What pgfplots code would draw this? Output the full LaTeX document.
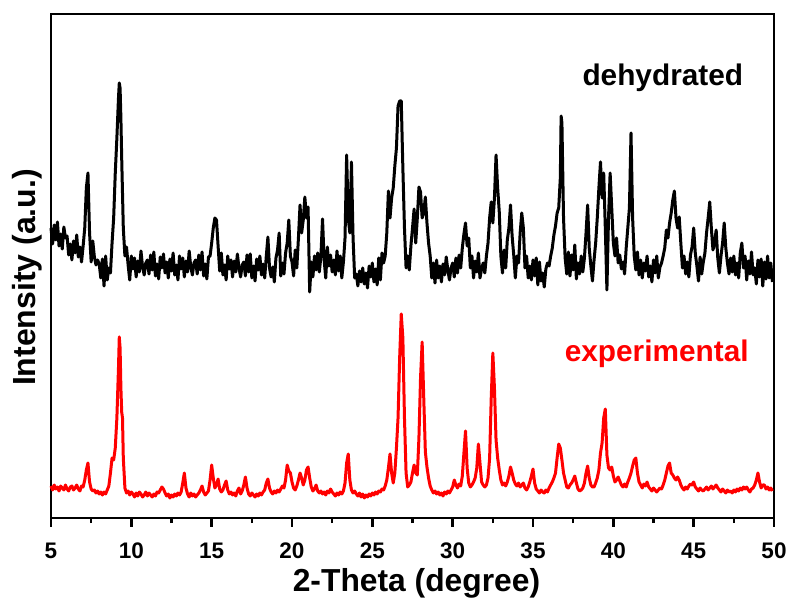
\documentclass[border=0pt]{standalone}
\usepackage{fontspec}
\setmainfont{Liberation Sans}
\usepackage{pgfplots}
\pgfplotsset{compat=1.18}
\usetikzlibrary{calc}

\pgfplotstableread{
x y
5.0 290
5.1 274
5.2 293
5.3 278
5.4 296
5.5 272
5.6 284
5.7 269
5.8 291
5.9 280
6.0 282
6.1 263
6.2 274
6.3 258
6.4 277
6.5 265
6.6 283
6.7 261
6.8 271
6.9 256
7.0 272
7.1 290
7.2 330
7.3 345
7.4 285
7.5 256
7.6 277
7.7 261
7.8 253
7.9 258
8.0 254
8.1 240
8.2 259
8.3 232
8.4 262
8.5 238
8.6 250
8.7 245
8.8 275
8.9 300
9.0 345
9.1 380
9.2 420
9.25 435
9.3 430
9.35 400
9.4 360
9.5 290
9.6 262
9.7 271
9.8 253
9.9 238
10.0 262
10.1 249
10.2 260
10.3 241
10.4 257
10.5 246
10.6 267
10.7 251
10.8 243
10.9 255
11.0 258
11.1 244
11.2 263
11.3 248
11.4 266
11.5 242
11.6 254
11.7 239
11.8 261
11.9 250
12.0 264
12.1 245
12.2 256
12.3 240
12.4 259
12.5 247
12.6 265
12.7 243
12.8 253
12.9 238
13.0 262
13.1 249
13.2 260
13.3 241
13.4 257
13.5 246
13.6 267
13.7 251
13.8 243
13.9 255
14.0 258
14.1 244
14.2 263
14.3 248
14.4 266
14.5 242
14.6 254
14.7 239
14.8 261
14.9 262
15.0 275
15.1 290
15.2 300
15.3 298
15.4 272
15.5 247
15.6 265
15.7 243
15.8 253
15.9 238
16.0 262
16.1 249
16.2 258
16.3 241
16.4 257
16.5 246
16.6 264
16.7 250
16.8 241
16.9 253
17.0 256
17.1 242
17.2 263
17.3 246
17.4 264
17.5 240
17.6 252
17.7 237
17.8 259
17.9 248
18.0 262
18.1 243
18.2 254
18.3 240
18.4 262
18.5 281
18.6 250
18.7 241
18.8 251
18.9 236
19.0 260
19.1 268
19.2 285
19.3 242
19.4 255
19.5 244
19.6 265
19.7 275
19.8 298
19.9 262
20.0 256
20.1 242
20.2 268
20.3 250
20.4 280
20.5 313
20.6 285
20.7 298
20.8 321
20.9 300
21.0 311
21.1 226
21.2 256
21.3 241
21.4 262
21.5 248
21.6 265
21.7 246
21.8 262
21.9 299
22.0 258
22.1 240
22.2 271
22.3 252
22.4 263
22.5 246
22.6 258
22.7 243
22.8 267
22.9 247
23.0 262
23.1 240
23.2 256
23.3 280
23.4 363
23.5 300
23.6 285
23.7 356
23.8 280
23.9 240
24.0 244
24.1 232
24.2 247
24.3 236
24.4 250
24.5 234
24.6 245
24.7 230
24.8 252
24.9 241
25.0 255
25.1 236
25.2 249
25.3 233
25.4 260
25.5 238
25.6 265
25.7 255
25.8 262
25.9 285
26.0 327
26.1 300
26.2 320
26.3 330
26.4 352
26.5 370
26.6 412
26.7 417
26.8 417
26.9 350
27.0 290
27.1 250
27.2 262
27.3 248
27.4 272
27.5 290
27.6 309
27.7 275
27.8 300
27.9 331
28.0 326
28.1 300
28.2 305
28.3 321
28.4 295
28.5 275
28.6 262
28.7 240
28.8 255
28.9 235
29.0 258
29.1 240
29.2 252
29.3 236
29.4 254
29.5 243
29.6 261
29.7 248
29.8 238
29.9 250
30.0 255
30.1 241
30.2 260
30.3 245
30.4 263
30.5 250
30.6 270
30.7 284
30.8 295
30.9 272
31.0 280
31.1 250
31.2 262
31.3 240
31.4 257
31.5 246
31.6 265
31.7 240
31.8 249
31.9 255
32.0 245
32.1 262
32.2 275
32.3 300
32.4 316
32.5 295
32.6 320
32.7 363
32.8 330
32.9 306
33.0 262
33.1 245
33.2 268
33.3 250
33.4 278
33.5 290
33.6 313
33.7 282
33.8 263
33.9 240
34.0 262
34.1 255
34.2 285
34.3 305
34.4 290
34.5 250
34.6 262
34.7 240
34.8 252
34.9 238
35.0 258
35.1 242
35.2 260
35.3 233
35.4 256
35.5 237
35.6 245
35.7 231
35.8 249
35.9 255
36.0 252
36.1 262
36.2 270
36.3 283
36.4 292
36.5 305
36.6 310
36.7 340
36.75 402
36.8 395
36.9 300
37.0 260
37.1 244
37.2 266
37.3 242
37.4 263
37.5 248
37.6 273
37.7 239
37.8 255
37.9 244
38.0 262
38.1 246
38.2 260
38.3 285
38.4 313
38.5 270
38.6 252
38.7 237
38.8 258
38.9 275
39.0 300
39.1 330
39.2 356
39.3 320
39.4 345
39.5 290
39.6 228
39.7 300
39.8 345
39.9 310
40.0 275
40.1 262
40.2 280
40.3 255
40.4 263
40.5 249
40.6 256
40.7 244
40.8 270
40.9 290
41.0 310
41.1 385
41.2 300
41.3 262
41.4 248
41.5 266
41.6 243
41.7 258
41.8 240
41.9 255
42.0 247
42.1 262
42.2 241
42.3 252
42.4 236
42.5 258
42.6 245
42.7 262
42.8 240
42.9 251
43.0 255
43.1 262
43.2 270
43.3 288
43.4 280
43.5 295
43.6 305
43.7 318
43.8 327
43.9 300
44.0 290
44.1 301
44.2 275
44.3 250
44.4 262
44.5 244
44.6 256
44.7 241
44.8 263
44.9 271
45.0 290
45.1 265
45.2 252
45.3 237
45.4 261
45.5 244
45.6 256
45.7 265
45.8 285
45.9 300
46.0 316
46.1 290
46.2 268
46.3 275
46.4 288
46.5 260
46.6 245
46.7 262
46.8 275
46.9 295
47.0 270
47.1 255
47.2 244
47.3 260
47.4 246
47.5 262
47.6 243
47.7 255
47.8 240
47.9 265
48.0 275
48.1 250
48.2 262
48.3 238
48.4 257
48.5 244
48.6 266
48.7 243
48.8 250
48.9 234
49.0 258
49.1 241
49.2 259
49.3 232
49.4 256
49.5 239
49.6 262
49.7 240
49.8 255
49.9 236
}\dehydrated

\pgfplotstableread{
x y
5.0 32
5.1 28
5.2 33
5.3 29
5.4 31
5.5 27
5.6 32
5.7 30
5.8 28
5.9 33
6.0 29
6.1 27
6.2 31
6.3 32
6.4 28
6.5 30
6.6 33
6.7 29
6.8 27
6.9 32
7.0 31
7.1 38
7.2 48
7.3 55
7.4 36
7.5 29
7.6 27
7.7 28
7.8 25
7.9 27
8.0 24
8.1 26
8.2 23
8.3 26
8.4 24
8.5 28
8.6 32
8.7 45
8.8 60
8.9 58
9.0 70
9.1 100
9.2 150
9.25 181
9.3 170
9.35 130
9.4 106
9.45 100
9.5 60
9.6 30
9.7 25
9.8 27
9.9 23
10.0 26
10.1 24
10.2 21
10.3 25
10.4 22
10.5 26
10.6 24
10.7 21
10.8 23
10.9 26
11.0 22
11.1 25
11.2 23
11.3 21
11.4 24
11.5 22
11.6 26
11.7 25
11.8 28
11.9 31
12.0 29
12.1 25
12.2 22
12.3 24
12.4 20
12.5 23
12.6 21
12.7 24
12.8 22
12.9 25
13.0 23
13.1 26
13.2 35
13.3 45
13.4 30
13.5 24
13.6 21
13.7 25
13.8 22
13.9 24
14.0 21
14.1 23
14.2 25
14.3 28
14.4 32
14.5 26
14.6 23
14.7 25
14.8 27
14.9 38
15.0 53
15.1 40
15.2 30
15.3 33
15.4 39
15.5 29
15.6 26
15.7 28
15.8 33
15.9 37
16.0 28
16.1 24
16.2 26
16.3 23
16.4 25
16.5 22
16.6 27
16.7 30
16.8 24
16.9 27
17.0 33
17.1 41
17.2 30
17.3 24
17.4 22
17.5 25
17.6 23
17.7 21
17.8 24
17.9 22
18.0 25
18.1 23
18.2 26
18.3 28
18.4 35
18.5 39
18.6 30
18.7 26
18.8 24
18.9 27
19.0 25
19.1 28
19.2 26
19.3 29
19.4 32
19.5 30
19.6 38
19.7 53
19.8 47
19.9 45
20.0 36
20.1 30
20.2 28
20.3 32
20.4 38
20.5 45
20.6 40
20.7 33
20.8 38
20.9 48
21.0 51
21.1 40
21.2 31
21.3 27
21.4 29
21.5 33
21.6 27
21.7 25
21.8 27
21.9 24
22.0 26
22.1 23
22.2 27
22.3 25
22.4 29
22.5 26
22.6 24
22.7 22
22.8 25
22.9 23
23.0 26
23.1 24
23.2 27
23.3 35
23.4 55
23.5 64
23.6 38
23.7 28
23.8 25
23.9 27
24.0 24
24.1 22
24.2 25
24.3 21
24.4 24
24.5 20
24.6 23
24.7 21
24.8 24
24.9 22
25.0 25
25.1 23
25.2 26
25.3 24
25.4 27
25.5 26
25.6 29
25.7 28
25.8 32
25.9 38
26.0 50
26.1 64
26.2 45
26.3 35
26.4 45
26.5 70
26.6 100
26.7 160
26.8 204
26.9 180
27.0 100
27.1 45
27.2 31
27.3 33
27.4 36
27.5 45
27.6 53
27.7 45
27.8 43
27.9 80
28.0 140
28.1 176
28.2 120
28.3 66
28.4 51
28.5 40
28.6 32
28.7 28
28.8 25
28.9 27
29.0 24
29.1 26
29.2 23
29.3 25
29.4 22
29.5 26
29.6 24
29.7 27
29.8 25
29.9 28
30.0 31
30.1 38
30.2 33
30.3 30
30.4 34
30.5 32
30.6 42
30.7 65
30.8 87
30.9 50
31.0 35
31.1 31
31.2 33
31.3 36
31.4 40
31.5 50
31.6 74
31.7 55
31.8 36
31.9 33
32.0 31
32.1 33
32.2 40
32.3 60
32.4 120
32.5 165
32.6 130
32.7 78
32.8 60
32.9 48
33.0 38
33.1 33
33.2 35
33.3 32
33.4 36
33.5 42
33.6 51
33.7 45
33.8 38
33.9 34
34.0 32
34.1 35
34.2 31
34.3 33
34.4 35
34.5 30
34.6 28
34.7 31
34.8 36
34.9 42
35.0 49
35.1 35
35.2 29
35.3 27
35.4 25
35.5 28
35.6 26
35.7 25
35.8 28
35.9 26
36.0 30
36.1 33
36.2 36
36.3 40
36.4 45
36.5 60
36.6 74
36.7 70
36.8 58
36.9 45
37.0 38
37.1 31
37.2 30
37.3 33
37.4 35
37.5 38
37.6 42
37.7 35
37.8 29
37.9 27
38.0 28
38.1 30
38.2 35
38.3 45
38.4 52
38.5 40
38.6 33
38.7 31
38.8 31
38.9 35
39.0 40
39.1 48
39.2 65
39.3 75
39.4 100
39.5 109
39.6 63
39.7 50
39.8 48
39.9 51
40.0 42
40.1 36
40.2 38
40.3 41
40.4 37
40.5 33
40.6 31
40.7 34
40.8 31
40.9 36
41.0 40
41.1 45
41.2 52
41.3 58
41.4 60
41.5 45
41.6 36
41.7 33
41.8 30
41.9 34
42.0 32
42.1 36
42.2 31
42.3 29
42.4 27
42.5 30
42.6 28
42.7 26
42.8 28
42.9 30
43.0 29
43.1 33
43.2 38
43.3 45
43.4 52
43.5 55
43.6 45
43.7 43
43.8 40
43.9 38
44.0 41
44.1 38
44.2 33
44.3 30
44.4 28
44.5 31
44.6 29
44.7 32
44.8 34
44.9 33
45.0 36
45.1 31
45.2 29
45.3 27
45.4 30
45.5 28
45.6 27
45.7 29
45.8 31
45.9 28
46.0 30
46.1 32
46.2 29
46.3 31
46.4 33
46.5 30
46.6 28
46.7 26
46.8 29
46.9 27
47.0 25
47.1 28
47.2 26
47.3 27
47.4 25
47.5 28
47.6 26
47.7 29
47.8 27
47.9 30
48.0 28
48.1 31
48.2 29
48.3 31
48.4 28
48.5 26
48.6 29
48.7 30
48.8 33
48.9 38
49.0 45
49.1 36
49.2 30
49.3 33
49.4 33
49.5 29
49.6 31
49.7 28
49.8 30
49.9 27
}\experimental

\begin{document}
\begin{tikzpicture}
\begin{axis}[
  scale only axis, width=361.5pt, height=252pt,
  xmin=5, xmax=50, ymin=0, ymax=504,
  xtick={5,10,...,50}, minor x tick num=1, ytick=\empty,
  xtick pos=left, tick align=outside,
  major tick length=4.3pt, minor tick length=2.5pt,
  every tick/.style={black, line width=1.3pt},
  axis line style={line width=1.4pt},
  /pgf/number format/assume math mode=true,
  xticklabel style={font=\fontsize{11.25}{13}\selectfont\bfseries, yshift=-4.5pt},
  xlabel={2-Theta (degree)},
  ylabel={Intensity (a.u.)},
  xlabel style={font=\fontsize{15.9}{18}\selectfont\bfseries, at={(axis description cs:0.5,0)}, anchor=center, yshift=-32.5pt, xshift=2pt},
  ylabel style={font=\fontsize{16}{18}\selectfont\bfseries, at={(axis description cs:0,0.5)}, anchor=center, yshift=12pt, xshift=-5.75pt},
  clip=false,
]
\addplot[black, line width=1.5pt, line join=round] table[x=x, y=y] {\dehydrated};
\addplot[red, line width=1.5pt, line join=round] table[x=x, y=y] {\experimental};
\node[font=\fontsize{14.9}{17}\selectfont\bfseries, text=black] at (axis cs:43.08,440) {dehydrated};
\node[font=\fontsize{14.9}{17}\selectfont\bfseries, text=red] at (axis cs:42.7,164) {experimental};
\end{axis}
\pgfresetboundingbox
\path[use as bounding box] ($(current axis.south west)+(-25.5pt,-43pt)$) rectangle ($(current axis.north east)+(8.5pt,7pt)$);
\end{tikzpicture}
\end{document}
